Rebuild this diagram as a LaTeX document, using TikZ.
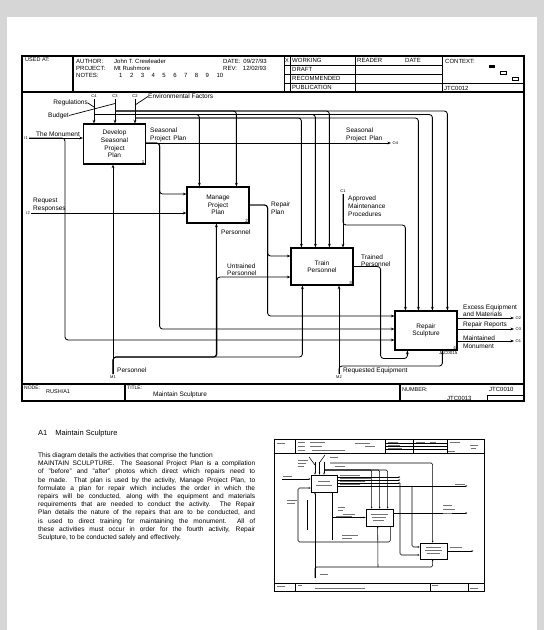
\documentclass[tikz,border=0pt]{standalone}
\usepackage{fontspec}
\setmainfont{Liberation Sans}
\usetikzlibrary{arrows.meta,positioning}

\begin{document}
\begin{tikzpicture}[x=1pt,y=-1pt,
			every node/.style={inner sep=0pt, font=\fontsize{6.5}{7.6}\selectfont},
			box/.style={draw, line width=1.2pt, minimum width=62pt, minimum height=39pt, align=center},
			boxno/.style={anchor=south east, font=\fontsize{4.5}{5}\selectfont},
			tag/.style={font=\fontsize{4}{4}\selectfont},
			hdr/.style={anchor=west, font=\fontsize{6}{7}\selectfont},
			flow/.style={line width=0.85pt, rounded corners=3pt, -{Stealth[length=3.6pt,width=2.8pt]}},
			lead/.style={line width=0.7pt},
			form/.style={line width=1.2pt},
			mini/.style={line width=0.55pt, rounded corners=1.5pt},
			miniflow/.style={mini, -{Stealth[length=2pt,width=1.6pt]}},
			smudge/.style={line width=0.9pt, black!55}]
			
			\fill[black!16] (0,0) rectangle (544,630);
			\fill[white] (7,17) rectangle (537,630);
			\useasboundingbox (0,0) rectangle (544,630);
			
			% form
			\draw[form] (22,56) rectangle (524,401);
			\draw[line width=1.6pt] (22,92) -- (524,92);
			\draw[form] (22,384) -- (524,384);
			\draw[form] (73,56) -- (73,92);
			\foreach \x in {284,290,355,442} \draw[line width=0.8pt] (\x,56) -- (\x,92);
			\foreach \y in {65,74,83} \draw[line width=0.8pt] (284,\y) -- (442,\y);
			\draw[line width=0.8pt] (442,83) -- (524,83);
			\draw[form] (125,384) -- (125,401);
			\draw[form] (400,384) -- (400,401);
			\draw[line width=0.8pt] (487,401) |- (524,395);
			
			\node[hdr, font=\fontsize{5.5}{6}\selectfont] at (25,60) {USED AT:};
			\node[hdr] at (76,61) {AUTHOR:};
			\node[hdr] at (114,61) {John T. Crewleader};
			\node[hdr] at (76,68) {PROJECT:};
			\node[hdr] at (114,68) {Mt Rushmore};
			\node[hdr] at (76,75.5) {NOTES:};
			\node[hdr] at (119,75.5) {\makebox[104pt][s]{1 2 3 4 5 6 7 8 9 10}};
			\node[hdr] at (223,61) {DATE:\enspace 09/27/93};
			\node[hdr] at (223,68) {REV:\enspace\enspace 12/02/93};
			\node[font=\fontsize{5.5}{6}\selectfont] at (287,60.5) {X};
			\node[hdr] at (292,60.5) {WORKING};
			\node[hdr] at (292,69.5) {DRAFT};
			\node[hdr] at (292,78.5) {RECOMMENDED};
			\node[hdr] at (292,87.5) {PUBLICATION};
			\node[hdr] at (357,60.5) {READER};
			\node[hdr] at (405,60.5) {DATE};
			\node[hdr] at (445,61) {CONTEXT:};
			\node[hdr] at (444,88) {JTC0012};
			\fill (489,65) rectangle (495,68);
			\draw[line width=0.6pt] (500,71) rectangle (506,74);
			\draw[line width=0.6pt] (512,77) rectangle (518,80);
			
			\node[hdr, font=\fontsize{5}{6}\selectfont] at (24,387.5) {NODE:};
			\node[hdr, font=\fontsize{5.5}{6}\selectfont] at (46,392) {RUSH/A1};
			\node[hdr, font=\fontsize{5}{6}\selectfont] at (127,388) {TITLE:};
			\node[hdr, font=\fontsize{6.5}{7}\selectfont] at (153,395) {Maintain Sculpture};
			\node[hdr, font=\fontsize{5.5}{6}\selectfont] at (402,389.5) {NUMBER:};
			\node[hdr] at (447,398) {JTC0013};
			\node[hdr] at (489,389.5) {JTC0010};
			
			% activities
			\node[box, minimum height=40pt] (develop) at (114.5,144) {Develop\\Seasonal\\Project\\Plan};
			\node[box, minimum height=36pt] (manage) at (218,205) {Manage\\Project\\Plan};
			\node[box, minimum height=37pt] (train) at (322,266.5) {Train\\Personnel};
			\node[box] (repair) at (426,330.5) {Repair\\Sculpture};
			\node[boxno] at ([xshift=-1.5pt,yshift=1pt]develop.south east) {1};
			\node[boxno] at ([xshift=-1.5pt,yshift=1pt]manage.south east) {2};
			\node[boxno] at ([xshift=-1.5pt,yshift=1pt]train.south east) {3};
			\node[boxno] at ([xshift=-1.5pt,yshift=1pt]repair.south east) {4};
			\node[anchor=north east, font=\fontsize{4.5}{5}\selectfont] at ([yshift=-1pt]repair.south east) {JTC0015};
			
			% controls
			\coordinate (c4) at (94,99);
			\coordinate (c3) at (115,99);
			\coordinate (c2) at (135,99);
			\coordinate (c1) at (343,194);
			\node[tag, above=1.5pt] at (c4) {C4};
			\node[tag, above=1.5pt] at (c3) {C3};
			\node[tag, above=1.5pt] at (c2) {C2};
			\node[tag, above=1.5pt] at (c1) {C1};
			\node[anchor=east] (regs) at (88,103) {Regulations};
			\node[anchor=east] (budget) at (69,115.5) {Budget};
			\node[anchor=west] (envf) at (148,96.5) {Environmental Factors};
			\coordinate (c4r) at (94,107);
			\coordinate (c3b) at (115,103.5);
			\coordinate (c2e) at (135,105);
			\draw[lead] (regs.east) -- (c4r);
			\draw[lead] (budget.east) -- (c3b);
			\draw[lead] (envf.west) -- (c2e);
			\draw[flow] (c4) -- (c4 |- develop.north);
			\draw[flow] (c3) -- (c3 |- develop.north);
			\draw[flow] (c2) -- (c2 |- develop.north);
			
			\coordinate (hb) at (0,111);
			\coordinate (hr) at (0,114.5);
			\coordinate (he) at (0,118);
			\draw[flow] (c3 |- hb) -| ([xshift=50pt]manage.north west);
			\draw[flow] (c3 |- hb) -| ([xshift=39pt]train.north west);
			\draw[flow] (c3 |- hb) -| ([xshift=53pt]repair.north west);
			\draw[flow] (c4 |- hr) -| ([xshift=13pt]manage.north west);
			\draw[flow] (c4 |- hr) -| ([xshift=25pt]train.north west);
			\draw[flow] (c4 |- hr) -| ([xshift=38pt]repair.north west);
			\draw[flow] (c2 |- he) -| ([xshift=11pt]train.north west);
			\draw[flow] (c2 |- he) -| ([xshift=24pt]repair.north west);
			\draw[flow] (c1) -- (c1 |- train.north);
			\draw[flow] (c1) -- ++(0,31) -| ([xshift=11pt]repair.north west);
			\node[anchor=north west, align=left] at (348,196) {Approved\\Maintenance\\Procedures};
			
			% inputs
			\coordinate (i1) at (29,138);
			\coordinate (i2) at (31,213);
			\node[tag, anchor=east] at ([xshift=-1pt]i1) {I1};
			\node[tag, anchor=east] at ([xshift=-1pt]i2) {I2};
			\draw[flow] (i1) -- (i1 -| develop.west);
			\draw[flow] (i1) -- ++(36,0) |- ([yshift=-9.5pt]repair.west);
			\node[anchor=south west] at (36,136.8) {The Monument};
			\draw[flow] (i2) -- (i2 -| manage.west);
			\node[anchor=south west, align=left] at (33,212) {Request\\Responses};
			
			% outputs
			\coordinate (o4) at (391,143);
			\draw[flow] (develop.east |- o4) -- (o4);
			\draw[flow] (develop.east |- o4) -- ++(13.5,0) |- ([yshift=11pt]manage.west);
			\draw[flow] (develop.east |- o4) -- ++(13.5,0) |- ([yshift=1.5pt]repair.west);
			\node[tag, anchor=west] at ([xshift=1.5pt]o4) {O4};
			\node[anchor=south west, align=left] at (150,142) {Seasonal\\Project\, Plan};
			\node[anchor=south west, align=left] at (346,142) {Seasonal\\Project\, Plan};
			
			\draw[flow] (manage.east) -- ++(18,0) |- ([yshift=10.5pt]train.west);
			\draw[flow] (manage.east) -- ++(18,0) |- ([yshift=14.5pt]repair.west);
			\node[anchor=north west, align=left] at (271,202) {Repair\\Plan};
			
			\draw[flow] (train.east) -- ++(27,0) -- ++(0,92) -| ([xshift=13pt]repair.south west);
			\node[anchor=south west, align=left] at (361,267) {Trained\\Personnel};
			
			\coordinate (o2) at (514,318);
			\coordinate (o3) at (514,329);
			\coordinate (o1) at (514,341);
			\draw[flow] (repair.east |- o2) -- (o2);
			\draw[flow] (repair.east |- o3) -- (o3);
			\draw[flow] (repair.east |- o1) -- (o1);
			\node[tag, anchor=west] at ([xshift=1.5pt]o2) {O2};
			\node[tag, anchor=west] at ([xshift=1.5pt]o3) {O3};
			\node[tag, anchor=west] at ([xshift=1.5pt]o1) {O1};
			\node[anchor=south west, align=left] at (463,317) {Excess Equipment\\and Materials};
			\node[anchor=south west] at (463,328) {Repair Reports};
			\node[anchor=west, align=left] at (463,342) {Maintained\\Monument};
			
			% mechanisms
			\coordinate (m1) at (113,374);
			\coordinate (m2) at (339,374);
			\node[tag, anchor=north] at ([yshift=-1.5pt]m1) {M1};
			\node[tag, anchor=north] at ([yshift=-1.5pt]m2) {M2};
			\draw[flow] (m1) -- (m1 |- develop.south);
			\draw[flow] (m1) -- ++(0,-17) -| ([xshift=30pt]manage.south west);
			\draw[flow] (m1) -- ++(0,-17) -- ++(104,0) |- ([yshift=-10.5pt]train.west);
			\draw[flow] (m1) -- ++(0,-17) -| ([xshift=12pt]train.south west);
			\node[anchor=west] at (117,370) {Personnel};
			\node[anchor=west] at (221,232) {Personnel};
			\node[anchor=south west, align=left] at (227,276) {Untrained\\Personnel};
			\draw[flow] (m2) -- (m2 |- train.south);
			\draw[flow] (m2) -- ++(0,-8) -| ([xshift=48pt]repair.south west);
			\node[anchor=west] at (343,371) {Requested Equipment};
			
			% text
			\node[anchor=west, font=\fontsize{7.5}{9}\selectfont] (head) at (38,433.5) {A1\hspace{8pt}Maintain Sculpture};
			\node[anchor=north west, align=left, font=\fontsize{6.6}{8.2}\selectfont] (para) at (38,452.5) {%
				This diagram details the activities that comprise the function\\
				\makebox[217pt][s]{MAINTAIN SCULPTURE.\ \ The Seasonal Project Plan is a compilation}\\
				\makebox[217pt][s]{of "before" and "after" photos which direct which repairs need to}\\
				\makebox[217pt][s]{be made.\ \ That plan is used by the activity, Manage Project Plan, to}\\
				\makebox[217pt][s]{formulate a plan for repair which includes the order in which the}\\
				\makebox[217pt][s]{repairs will be conducted, along with the equipment and materials}\\
				\makebox[217pt][s]{requirements that are needed to conduct the activity.\ \ The Repair}\\
				\makebox[217pt][s]{Plan details the nature of the repairs that are to be conducted, and}\\
				\makebox[217pt][s]{is used to direct training for maintaining the monument.\ \ All of}\\
				\makebox[217pt][s]{these activities must occur in order for the fourth activity, Repair}\\
				Sculpture, to be conducted safely and effectively.};
			
			% thumbnail
			\draw[line width=0.8pt] (274,439) rectangle (484,591);
			\draw[line width=0.8pt] (274,453) -- (484,453);
			\draw[line width=0.8pt] (274,583) -- (484,583);
			\foreach \x in {295,385,413,447} \draw[line width=0.55pt] (\x,439) -- (\x,453);
			\foreach \y in {443,446,449} \draw[line width=0.45pt] (385,\y) -- (447,\y);
			\foreach \x in {295,430,468} \draw[line width=0.55pt] (\x,583) -- (\x,591);
			\node[draw, line width=0.7pt, minimum width=26pt, minimum height=17pt] (ta) at (324,483.5) {};
			\node[draw, line width=0.7pt, minimum width=27pt, minimum height=17pt] (tb) at (379.5,517.5) {};
			\node[draw, line width=0.7pt, minimum width=27pt, minimum height=16pt] (tc) at (433.5,551) {};
			\coordinate (ti) at (282,479);
			\coordinate (tm) at (315,578);
			\draw[miniflow] (ti) -- (ti -| ta.west);
			\draw[miniflow] ([yshift=6.5pt]ta.east) -- ++(63,0);
			\draw[miniflow] ([yshift=3.5pt]ta.east) -- ++(63,0);
			\draw[miniflow] ([yshift=0.5pt]ta.east) -- ++(63,0);
			\draw[miniflow] ([yshift=-2.5pt]ta.east) -- ++(130,0);
			\foreach \x in {-9,-4.5,0} \draw[miniflow] ([xshift=\x pt,yshift=13pt]ta.north) -- ([xshift=\x pt]ta.north);
			\draw[mini] (309,457) -- (315,465);
			\draw[mini] (325,455) -- (320,462);
			\draw[miniflow] (325,470) -| ([xshift=6pt]tb.north west);
			\draw[miniflow] (325,470) -| ([xshift=14pt]tb.north west);
			\draw[miniflow] (325,470) -| ([xshift=22pt]tb.north west);
			\draw[miniflow] (330,463) -| ([xshift=13pt]tc.north west);
			\draw[miniflow] ([xshift=-3pt]tb.south east) |- (298,542) |- ([yshift=-4.5pt]ta.west);
			\draw[mini] (307,500) -- (307,530);
			\draw[miniflow] (tm) -- (tm |- ta.south);
			\draw[miniflow] (tm) -- ++(0,-11) -| ([xshift=13pt]tc.south west);
			\draw[miniflow] (378,567) -- ([xshift=12pt]tb.south west);
			\draw[mini] ([xshift=8pt]ta.south) -- ++(0,48);
			\draw[miniflow] (332,517.5) -- (tb.west);
			\draw[miniflow] ([yshift=4.5pt]tb.east) -- ++(74,0);
			\draw[miniflow] (400,483) |- ([yshift=-4pt]tc.west);
			\draw[miniflow] (412,486) |- ([yshift=4pt]tc.west);
			\draw[miniflow] (tc.east) -- ++(26,0);
			\foreach \a/\b/\y in {277/285/443, 298/305/442, 310/325/442, 298/305/446, 310/322/446, 298/305/450, 312/345/450,
				355/370/443, 365/375/446, 388/398/442.5, 388/400/445.5, 388/402/448.5, 416/425/442, 430/436/442, 450/460/442,
				470/478/445, 471/476/448, 448/455/451, 277/285/586, 298/302/585, 315/365/588, 432/438/585, 470/478/588,
				283/292/476, 340/360/475, 340/372/478, 340/365/481, 340/360/484, 455/465/484, 287/297/500, 287/295/503,
				338/345/507, 338/343/510, 343/355/514, 336/352/516, 443/452/505, 443/455/509, 443/452/513, 342/358/535,
				342/352/538, 450/462/547, 320/328/574, 298/308/460, 298/306/463, 298/304/466, 330/338/457, 335/345/466,
				318/330/481, 316/332/485, 371/388/514, 372/386/517, 373/384/520, 426/441/547, 425/442/550, 427/440/553}
				\draw[smudge] (\a,\y) -- (\b,\y);
		\end{tikzpicture}
\end{document}
